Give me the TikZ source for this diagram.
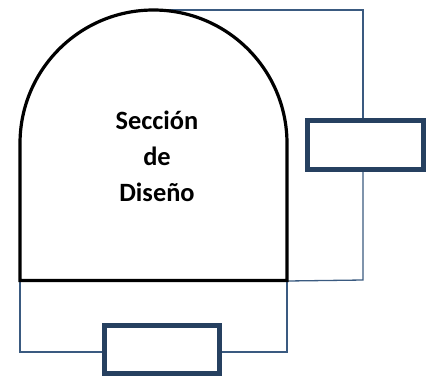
\documentclass[tikz,border=0pt]{standalone}
\usepackage{fontspec}
\setmainfont{Carlito}
\definecolor{boxblue}{HTML}{264060}
\definecolor{wireblue}{HTML}{3A5A80}
\tikzset{
  archline/.style={draw=black, line width=3.2bp},
  boxnode/.style={draw=boxblue, line width=5bp, fill=white, inner sep=0pt, rectangle},
  wire/.style={draw=wireblue, line width=1.3bp},
  lbl/.style={font=\fontsize{26.5}{36}\selectfont\bfseries, text=black, inner sep=0pt, anchor=base}
}
\begin{document}
\begin{tikzpicture}[x=1bp,y=-1bp]
\useasboundingbox (0,0) rectangle (434,376);
% named points of the arch
\coordinate (atop) at (157,10);
\coordinate (abl) at (20,281);
\coordinate (abr) at (287,281);
\coordinate (abr2) at (287,273);
% corner points of the wires
\coordinate (c1) at (363,10);
\coordinate (c2) at (363,280);
\coordinate (c3) at (20,352);
\coordinate (c4) at (287,352);
% boxes
\node[boxnode, minimum width=116bp, minimum height=49bp] (rb) at (365.5,145) {};
\node[boxnode, minimum width=115bp, minimum height=48bp] (bb) at (162,349.5) {};
% wires
\draw[wire] (atop) -- (c1) -- (c1 |- rb.north);
\draw[wire] (c2 |- rb.south) -- (c2) -- (abr);
\draw[wire] (abl) -- (c3) -- (c3 -| bb.west);
\draw[wire] (c4 -| bb.east) -- (c4) -- (abr2);
% arch
\draw[archline] (20,280.5) -- (20,143.5) arc[start angle=180, end angle=0, radius=133.5bp] -- (287,280.5) -- cycle;
% text
\node[lbl] (t1) at (157,129) {Sección};
\node[lbl] (t2) at (157,165) {de};
\node[lbl] (t3) at (157,201) {Diseño};
\end{tikzpicture}
\end{document}
